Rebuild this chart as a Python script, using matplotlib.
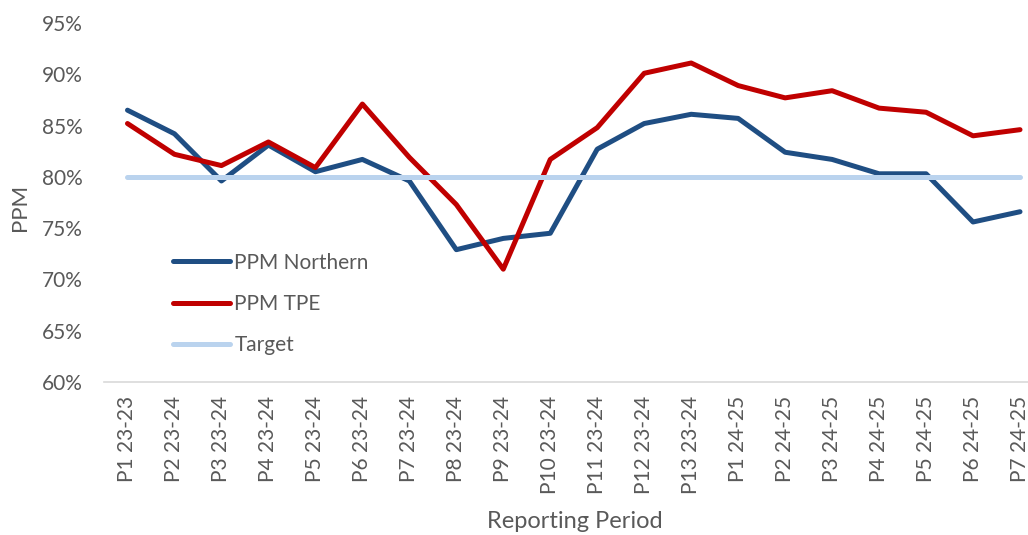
import matplotlib
matplotlib.use("Agg")
import matplotlib.pyplot as plt
from matplotlib.ticker import FuncFormatter

periods = ["P1 23-23", "P2 23-24", "P3 23-24", "P4 23-24", "P5 23-24", "P6 23-24",
           "P7 23-24", "P8 23-24", "P9 23-24", "P10 23-24", "P11 23-24", "P12 23-24",
           "P13 23-24", "P1 24-25", "P2 24-25", "P3 24-25", "P4 24-25", "P5 24-25",
           "P6 24-25", "P7 24-25"]
ppm_northern = [86.5, 84.2, 79.6, 83.1, 80.5, 81.7, 79.6, 72.9, 74.0, 74.5,
                82.7, 85.2, 86.1, 85.7, 82.4, 81.7, 80.3, 80.3, 75.6, 76.6]
ppm_tpe = [85.2, 82.2, 81.1, 83.4, 80.9, 87.1, 81.9, 77.3, 71.0, 81.7,
           84.8, 90.1, 91.1, 88.9, 87.7, 88.4, 86.7, 86.3, 84.0, 84.6]
target = [80.0] * len(periods)

plt.rcParams['font.family'] = ['Lato', 'DejaVu Sans']

fig = plt.figure(figsize=(10.28, 5.35), dpi=100)
ax = fig.add_axes([104/1028, 1 - 382/535, (1043.5 - 104)/1028, (382 - 23)/535])

x = list(range(len(periods)))
ax.plot(x, ppm_northern, color="#1F4E83", lw=3.6, label="PPM Northern", solid_capstyle="round", solid_joinstyle="round")
ax.plot(x, ppm_tpe, color="#C00000", lw=3.6, label="PPM TPE", solid_capstyle="round", solid_joinstyle="round")
ax.plot(x, target, color="#BAD3EE", lw=3.6, label="Target", solid_capstyle="round")
ax.set_xlim(-0.5, len(periods) - 0.5)
ax.set_ylim(60, 95)
ax.set_yticks(range(60, 96, 5))
ax.yaxis.set_major_formatter(FuncFormatter(lambda v, p: f"{int(v)}%"))
ax.set_xticks(x)
ax.set_xticklabels(periods, rotation=90)
ax.tick_params(axis='both', length=0, labelsize=15, colors="#595959")
ax.tick_params(axis='x', pad=10)
ax.tick_params(axis='y', pad=15)
for s in ["top", "right", "left"]:
    ax.spines[s].set_visible(False)
ax.spines["bottom"].set_color("#D9D9D9")
ax.spines["bottom"].set_linewidth(1.2)

fig.text(20/1028, 1 - 207/535, "PPM", fontsize=16, color="#595959", rotation=90, ha="center", va="center")
fig.text(575/1028, 1 - 521/535, "Reporting Period", fontsize=17, color="#595959", ha="center", va="center")

leg = fig.legend(loc="center left", bbox_to_anchor=(173/1028, 1 - 304/535),
                 bbox_transform=fig.transFigure, frameon=False, borderpad=0, borderaxespad=0,
                 fontsize=15, labelcolor="#595959", handlelength=2.75, labelspacing=1.02,
                 handletextpad=0.2)
fig.savefig("out.png", dpi=100)
